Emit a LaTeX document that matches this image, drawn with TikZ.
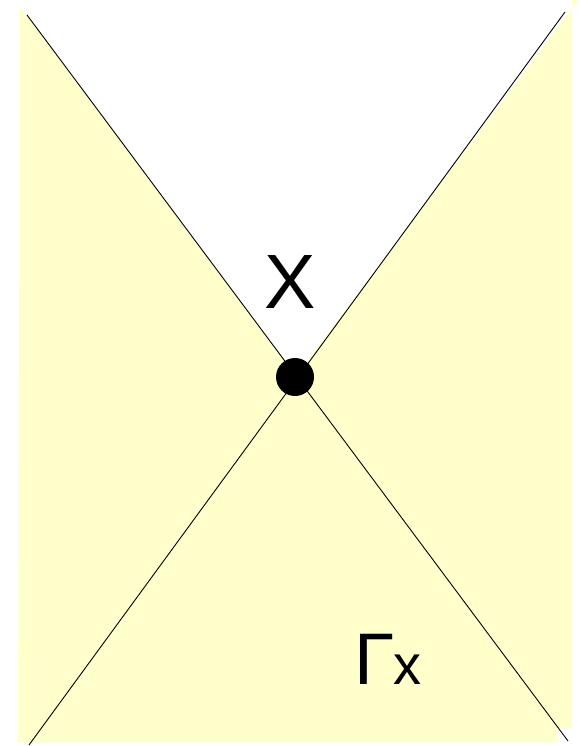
\documentclass[tikz,border=0pt]{standalone}
\usepackage{fontspec}
\setmainfont{Liberation Sans}
\definecolor{paleyellow}{RGB}{255,255,204}
\begin{document}
\begin{tikzpicture}[x=1pt,y=-1pt,
  cone/.style={black,line width=0.9pt},
  lbl/.style={inner sep=0pt,anchor=base}]
\useasboundingbox (0,0) rectangle (579,746);
\fill[paleyellow] (22,9) -- (296,376) -- (578,0) -- (572,0) -- (572,728) -- (557,728) -- (557,742) -- (18,742) -- (20,9) -- cycle;
\coordinate (tl) at (27,15);
\coordinate (br) at (568,741);
\coordinate (tr) at (565,12);
\coordinate (bl) at (29,745);
\draw[cone] (tl) -- (br);
\draw[cone] (tr) -- (bl);
\node[circle,fill=black,minimum size=38pt,inner sep=0pt] (p) at (295,377) {};
\node[lbl,font=\fontsize{77}{80}\selectfont] (xl) at (290,308) {X};
\node[lbl,font=\fontsize{73}{76}\selectfont] (g) at (375,684) {Γ};
\node[lbl,font=\fontsize{56}{60}\selectfont] (gx) at (407,684) {x};
\end{tikzpicture}
\end{document}
